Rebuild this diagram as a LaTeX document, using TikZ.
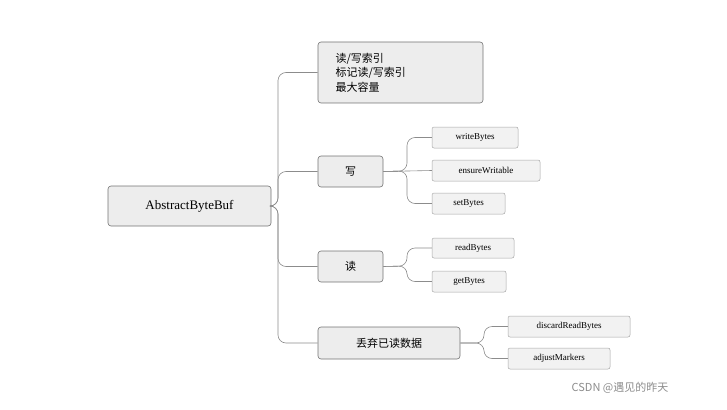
\documentclass[tikz,border=0pt]{standalone}
\usepackage{fontspec}
\setmainfont{Liberation Serif}
\newfontfamily\cjk{Noto Sans CJK SC}
\begin{document}
\begin{tikzpicture}[x=1pt,y=-1pt,
  box/.style={draw=black!55,fill=black!7,rounded corners=3pt,line width=0.6pt,inner sep=0pt},
  leaf/.style={draw=black!35,fill=black!5,rounded corners=2pt,line width=0.5pt,inner sep=0pt,font=\fontsize{9}{10}\selectfont},
  con/.style={draw=black!45,line width=0.6pt,rounded corners=8pt}]
\useasboundingbox (0,0) rectangle (727,409);
\node[box,minimum width=163pt,minimum height=40pt,font=\fontsize{13}{14}\selectfont] (root) at (189.5,206) {AbstractByteBuf};
\node[box,minimum width=165pt,minimum height=61pt] (b1) at (400.5,72.5) {};
\node[anchor=west,align=left,font=\cjk\fontsize{11}{14.5}\selectfont] (t1) at (332,72.5) {读/写索引\\标记读/写索引\\最大容量};
\node[box,minimum width=65pt,minimum height=31pt,font=\cjk\fontsize{11}{12}\selectfont] (w) at (350.5,171.5) {写};
\node[box,minimum width=65pt,minimum height=31pt,font=\cjk\fontsize{11}{12}\selectfont] (r) at (350.5,266.5) {读};
\node[box,minimum width=142pt,minimum height=32pt,font=\cjk\fontsize{11}{12}\selectfont] (d) at (389,343) {丢弃已读数据};
\node[leaf,minimum width=86pt,minimum height=21pt] (wb) at (475,137.5) {writeBytes};
\node[leaf,minimum width=108pt,minimum height=21pt] (ew) at (486,170.5) {ensureWritable};
\node[leaf,minimum width=73pt,minimum height=21pt] (sb) at (468.5,203.5) {setBytes};
\node[leaf,minimum width=82pt,minimum height=20pt] (rb) at (473,248) {readBytes};
\node[leaf,minimum width=74pt,minimum height=21pt] (gb) at (469,281.5) {getBytes};
\node[leaf,minimum width=122pt,minimum height=21pt] (drb) at (569,326.5) {discardReadBytes};
\node[leaf,minimum width=102pt,minimum height=21pt] (am) at (559,358.5) {adjustMarkers};
\coordinate (j0) at (278,206);
\coordinate (j1) at (407,171);
\coordinate (j2) at (407,266);
\coordinate (j3) at (484,343);
\draw[con] (root.east) -- (j0) |- (b1.west);
\draw[con] (root.east) -- (j0) |- (w.west);
\draw[con] (root.east) -- (j0) |- (r.west);
\draw[con] (root.east) -- (j0) |- (d.west);
\draw[con] (w.east) -- (j1) |- (wb.west);
\draw[con] (w.east) -- (ew.west);
\draw[con] (w.east) -- (j1) |- (sb.west);
\draw[con] (r.east) -- (j2) |- (rb.west);
\draw[con] (r.east) -- (j2) |- (gb.west);
\draw[con] (d.east) -- (j3) |- (drb.west);
\draw[con] (d.east) -- (j3) |- (am.west);
\node[text=black!45,font=\cjk\fontsize{11}{12}\selectfont] (wm) at (620,388) {CSDN @遇见的昨天};
\end{tikzpicture}
\end{document}
